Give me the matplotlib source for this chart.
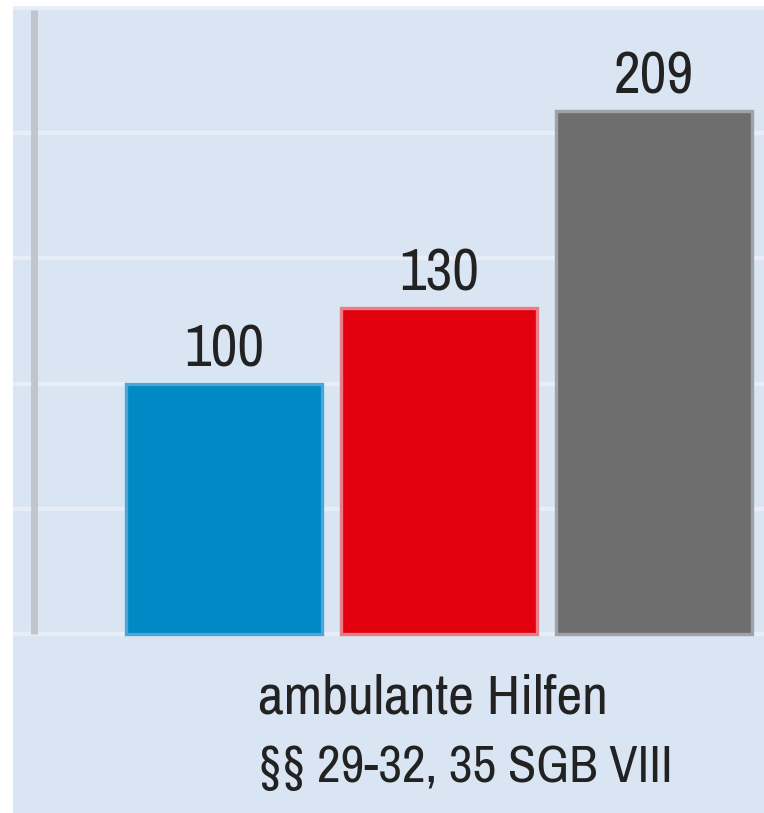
import matplotlib
matplotlib.use("Agg")
import matplotlib.pyplot as plt

categories = ["2010", "2015", "2020"]
values = [100, 130, 209]
bar_colors = ["#0089c4", "#e2000f", "#6e6e6e"]
edge_colors = ["#4aa6d6", "#ea7c86", "#9ea2a9"]
label_lines = ["ambulante Hilfen", "§§ 29-32, 35 SGB VIII"]

fam = ["Archivo Narrow", "Roboto Condensed", "DejaVu Sans"]

W, H = 764, 813
fig = plt.figure(figsize=(W / 100, H / 100), dpi=100)
fig.patch.set_facecolor("white")

left, right, top, bottom = 13, 764, 6, 813
ax = fig.add_axes([left / W, 1 - bottom / H, (right - left) / W, (bottom - top) / H])
bg = "#dae5f3"
ax.set_facecolor(bg)

px_per_unit_y = 626 / 250
y0_px = 634
ax.set_ylim(-(bottom - y0_px) / px_per_unit_y, (y0_px - top) / px_per_unit_y)
spacing = 215
x0_px = 224
ax.set_xlim((left - x0_px) / spacing, (right - x0_px) / spacing)

for s in ax.spines.values():
    s.set_visible(False)
ax.set_xticks([])
ax.set_yticks([])

for g in [0, 50, 100, 150, 200, 250]:
    ax.axhline(g, color="#e7eef8", lw=3, zorder=1)

xs = list(range(len(values)))
ax.bar(xs, values, width=0.915, color=bar_colors, edgecolor=edge_colors,
       linewidth=2.4, zorder=3)

ax.vlines((34 - x0_px) / spacing, 0, 249.2, color="#c2c5cc", lw=5, zorder=2)

renderer = fig.canvas.get_renderer()

def fit(t, target_px):
    w = t.get_window_extent(renderer).width
    t.set_fontsize(t.get_fontsize() * target_px / w)

vlabels = []
for x, v in zip(xs, values):
    vlabels.append(ax.text(x, v + 3, str(v), ha="center", va="bottom", fontsize=38,
                           family=fam, color="#222222", zorder=4))
fit(vlabels[2], 80)
for t in vlabels:
    t.set_fontsize(vlabels[2].get_fontsize())

t1 = ax.text((258 - x0_px) / spacing, -(713 - y0_px) / px_per_unit_y, label_lines[0],
             ha="left", va="baseline", fontsize=40, family=fam, color="#222222")
t2 = ax.text((258 - x0_px) / spacing, -(782 - y0_px) / px_per_unit_y, label_lines[1],
             ha="left", va="baseline", fontsize=40, family=fam, color="#222222")
fit(t1, 350)
fit(t2, 415)

fig.savefig("out.png", dpi=100, facecolor="white")
